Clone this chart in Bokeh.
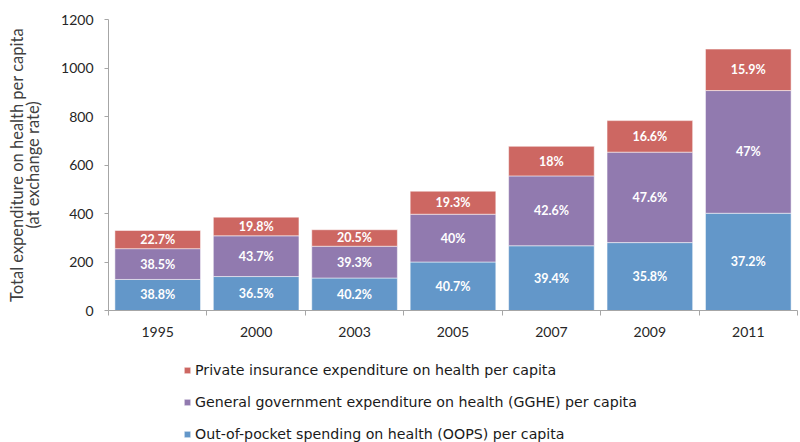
import numpy as np
from bokeh.plotting import figure
from bokeh.layouts import column
from bokeh.models import Range1d, FixedTicker, Legend, LegendItem, ColumnDataSource
from bokeh.core.properties import value
from bokeh.embed import file_html
from bokeh.resources import INLINE

years = ["1995", "2000", "2003", "2005", "2007", "2009", "2011"]
oops = [128, 140, 134, 200, 267, 280, 401]
gghe = [127, 168, 131, 197, 288, 373, 506]
private = [75, 77, 68, 95, 122, 130, 171]
oops_pct = ["38.8%", "36.5%", "40.2%", "40.7%", "39.4%", "35.8%", "37.2%"]
gghe_pct = ["38.5%", "43.7%", "39.3%", "40%", "42.6%", "47.6%", "47%"]
private_pct = ["22.7%", "19.8%", "20.5%", "19.3%", "18%", "16.6%", "15.9%"]
series_keys = ["oops", "gghe", "private"]
series_names = [
    "Out-of-pocket spending on health (OOPS) per capita",
    "General government expenditure on health (GGHE) per capita",
    "Private insurance expenditure on health per capita",
]
colors = ["#6397C9", "#917AAF", "#CD6762"]
y_ticks = [0, 200, 400, 600, 800, 1000, 1200]

n = len(years)
xs = [i + 0.5 for i in range(n)]
source = ColumnDataSource(dict(x=xs, oops=oops, gghe=gghe, private=private))

p = figure(width=800, height=345, x_range=Range1d(0, n), y_range=Range1d(0, 1200),
           output_backend="svg", toolbar_location=None,
           min_border_left=108, min_border_right=3, min_border_top=19,
           min_border_bottom=35)
p.outline_line_color = None
p.xgrid.grid_line_color = None
p.ygrid.grid_line_color = None

rs = p.vbar_stack(series_keys, x="x", width=0.87, source=source,
                  fill_color=colors, line_color="white", line_alpha=0.5, line_width=1)

bottoms = np.zeros(n)
for vals, pcts in zip([oops, gghe, private], [oops_pct, gghe_pct, private_pct]):
    v = np.array(vals, dtype=float)
    centers = bottoms + v / 2
    p.text(x=xs, y=list(centers), text=pcts, text_align="center", text_baseline="middle",
           text_color="white", text_font=value("Lato"), text_font_style="bold",
           text_font_size="12.5px")
    bottoms += v

axis_color = "#A6A6A6"
xa = p.xaxis[0]
xa.ticker = FixedTicker(ticks=xs, minor_ticks=list(range(n + 1)))
xa.major_label_overrides = {x: y for x, y in zip(xs, years)}
xa.major_tick_line_color = None
xa.major_tick_in = 0
xa.major_tick_out = 0
xa.minor_tick_in = 0
xa.minor_tick_out = 5
xa.minor_tick_line_color = axis_color
xa.axis_line_color = axis_color
xa.major_label_text_font = "Lato"
xa.major_label_text_font_size = "14px"
xa.major_label_text_color = "#262626"
xa.major_label_standoff = 11

ya = p.yaxis[0]
ya.ticker = FixedTicker(ticks=y_ticks)
ya.minor_tick_line_color = None
ya.major_tick_in = 0
ya.major_tick_out = 4
ya.major_tick_line_color = axis_color
ya.axis_line_color = axis_color
ya.major_label_text_font = "Lato"
ya.major_label_text_font_size = "14px"
ya.major_label_text_color = "#262626"
ya.major_label_standoff = 11
ya.axis_label = "Total expenditure on health per capita\n(at exchange rate)"
ya.axis_label_text_font = "Lato"
ya.axis_label_text_font_size = "16.5px"
ya.axis_label_text_font_style = "normal"
ya.axis_label_text_color = "#404040"
ya.axis_label_standoff = 15
ya.axis_label_text_line_height = 0.8

# legend panel below the chart
p2 = figure(width=800, height=97, x_range=Range1d(0, 1), y_range=Range1d(0, 1),
            output_backend="svg", toolbar_location=None,
            x_axis_location=None, y_axis_location=None, min_border=0)
p2.outline_line_color = None
p2.grid.visible = False
rs2 = p2.vbar_stack(series_keys, x="x", width=0.87, source=source,
                    fill_color=colors, line_color="white", line_alpha=0.5, line_width=1)
for r in rs2:
    r.visible = False

legend = Legend(
    items=[LegendItem(label=series_names[i], renderers=[rs2[i]]) for i in [2, 1, 0]],
    location=(75, 0), orientation="vertical", glyph_width=8, glyph_height=8,
    label_height=17, spacing=15, label_standoff=4, padding=0, margin=0,
    border_line_color=None, background_fill_alpha=0, inactive_fill_alpha=0,
    label_text_font="DejaVu Sans", label_text_font_size="14.2px",
    label_text_color="#1a1a1a")
p2.add_layout(legend, "center")

layout = column(p, p2, spacing=0)
open("out.html", "w").write(file_html(layout, INLINE))
